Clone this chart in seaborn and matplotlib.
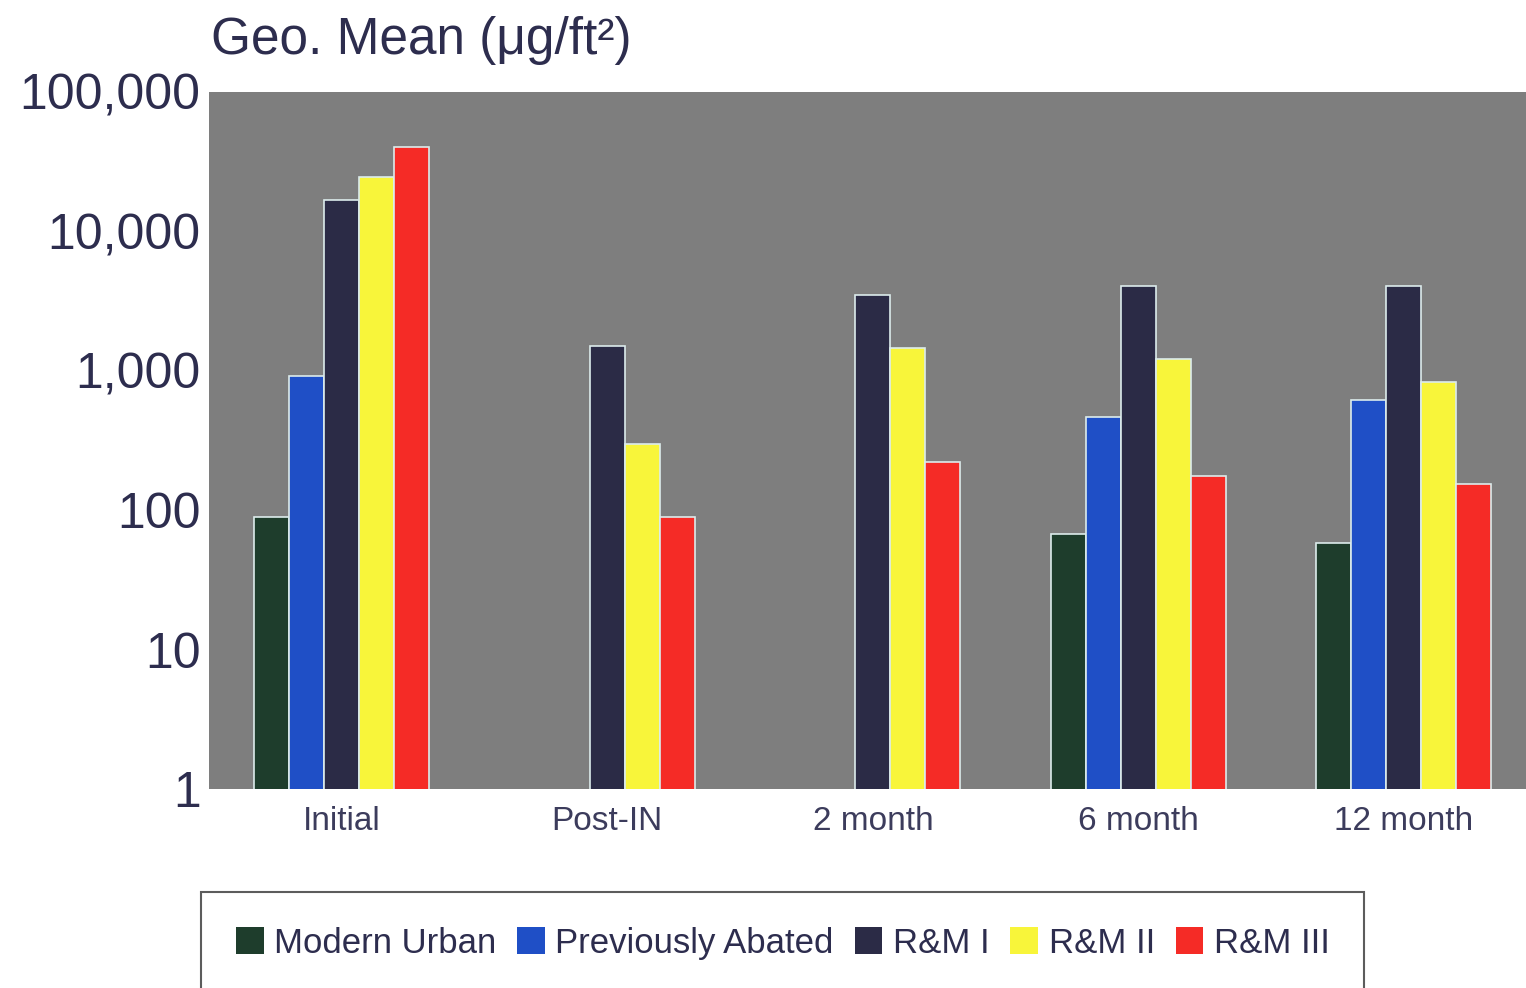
import numpy as np
import pandas as pd
import matplotlib
matplotlib.use("Agg")
import matplotlib.pyplot as plt
import seaborn as sns

# Geometric mean dust lead loading (ug/ft2) (log scale)
periods = ["Initial", "Post-IN", "2 month", "6 month", "12 month"]
groups = ["Modern Urban", "Previously Abated", "R&M I", "R&M II", "R&M III"]
modern_urban = [89, np.nan, np.nan, 67, 58]
prev_abated = [920, np.nan, np.nan, 465, 620]
rm_1 = [16800, 1500, 3500, 4050, 4050]
rm_2 = [24500, 300, 1450, 1220, 830]
rm_3 = [40000, 89, 220, 176, 154]

y_ticks = [1, 10, 100, 1000, 10000, 100000]
y_tick_labels = ["1", "10", "100", "1,000", "10,000", "100,000"]

colors = ["#1e3d2c", "#1f4fc6", "#2b2b46", "#f8f53a", "#f52b26"]
text_col = "#2d2d4e"

df = pd.DataFrame({
    "period": np.repeat(periods, len(groups)).tolist(),
    "group": groups * len(periods),
})
vals = np.array([modern_urban, prev_abated, rm_1, rm_2, rm_3]).T.ravel()
df["value"] = vals

sns.set_theme(style="white")
plt.rcParams["font.family"] = ["Liberation Sans", "DejaVu Sans"]

fig = plt.figure(figsize=(15.26, 9.88), dpi=100)
ax = fig.add_axes([0.137, 0.2014, 0.863, 0.7055])
ax.set_facecolor("#7e7e7e")

sns.barplot(data=df, x="period", y="value", hue="group", order=periods,
            hue_order=groups, palette=colors, width=0.66, errorbar=None,
            edgecolor="#dcecec", linewidth=1.2, saturation=1, ax=ax)

ax.set_yscale("log")
ax.set_ylim(1, 100000)
ax.set_xlim(-0.5, 4.46)
ax.set_yticks(y_ticks)
ax.set_yticklabels(y_tick_labels)
ax.yaxis.set_minor_locator(matplotlib.ticker.NullLocator())
ax.tick_params(axis="y", labelsize=36, colors=text_col, length=0, pad=6)
ax.tick_params(axis="x", labelsize=24, colors="#3c3c5c", length=0, pad=12)
ax.set_xlabel("")
ax.set_ylabel("")
for s in ax.spines.values():
    s.set_visible(False)

fig.text(0.138, 0.959, "Geo. Mean (\u03bcg/ft\u00b2)", fontsize=37,
         color=text_col, ha="left", va="center")

handles, labels = ax.get_legend_handles_labels()
ax.get_legend().remove()
leg = fig.legend(handles, labels, loc="upper center",
                 bbox_to_anchor=(0.513, 1 - 892 / 988), ncol=5, fontsize=25,
                 frameon=True, fancybox=False, handlelength=0.8,
                 handleheight=0.8, handletextpad=0.3, columnspacing=0.6,
                 borderpad=1.0, borderaxespad=0, labelcolor=text_col)
leg.get_frame().set_edgecolor("#333333")
leg.get_frame().set_linewidth(1.5)
for h in leg.legend_handles:
    h.set_edgecolor("none")

fig.savefig("out.png", dpi=100, facecolor="white")
